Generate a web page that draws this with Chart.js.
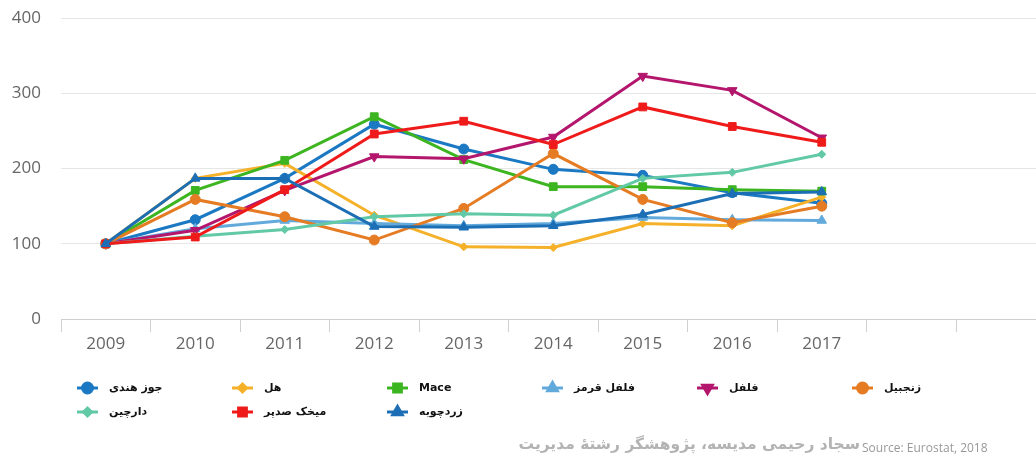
<!DOCTYPE html>
<html>
<head>
<meta charset="utf-8">
<script src="https://cdn.jsdelivr.net/npm/chart.js@4.4.0/dist/chart.umd.min.js"></script>
<style>
  html, body { margin: 0; padding: 0; background: #fff; overflow: hidden; }
  #wrap { position: relative; width: 1052px; height: 459px; overflow: hidden; }
  #spices { position: absolute; left: 0; top: -12px; }
  #credit { position: absolute; right: 192px; top: 435px; font: bold 15.5px "DejaVu Sans", sans-serif; color: #b3b3b3; white-space: nowrap; direction: rtl; }
  #source { position: absolute; left: 862px; top: 439px; font: 12px "Open Sans", sans-serif; color: #999; white-space: nowrap; }
</style>
</head>
<body>
<div id="wrap">
  <canvas id="spices" width="1052" height="471"></canvas>
  <div id="credit">سجاد رحیمی مدیسه، پژوهشگر رشتهٔ مدیریت</div>
  <div id="source">Source: Eurostat, 2018</div>
</div>
<script>
// years on the x axis, two empty slots at the end like the original
var years = ['2009', '2010', '2011', '2012', '2013', '2014', '2015', '2016', '2017', '', ''];

var nutmeg   = [100, 132, 187, 259, 226, 199, 191, 168, 154];
var cardamom = [100, 187, 207, 138, 96, 95, 127, 124, 162];
var mace     = [100, 171, 211, 269, 212, 176, 176, 172, 170];
var redPepper = [100, 120, 131, 127, 124, 127, 135, 132, 131];
var pepper   = [100, 118, 171, 216, 213, 242, 323, 304, 241];
var ginger   = [100, 159, 136, 105, 147, 220, 159, 128, 150];
var cinnamon = [100, 110, 119, 136, 140, 138, 187, 195, 219];
var cloves   = [100, 109, 172, 246, 263, 232, 282, 256, 235];
var turmeric = [100, 187, 187, 123, 122, 124, 139, 167, 169];

function series(label, data, color, style, radius, rotation) {
  return {
    label: label,
    data: data,
    borderColor: color,
    backgroundColor: color,
    pointBackgroundColor: color,
    pointBorderColor: color,
    pointStyle: style,
    pointRadius: radius,
    pointRotation: rotation || 0,
    pointBorderWidth: 1,
    borderWidth: 3,
    tension: 0
  };
}

var datasets = [
  series('جوز هندی', nutmeg, '#1b78c2', 'circle', 5),
  series('هل', cardamom, '#f4b129', 'rectRot', 4),
  series('Mace', mace, '#3cb521', 'rect', 5.5),
  series('فلفل قرمز', redPepper, '#62aadc', 'triangle', 5.5),
  series('فلفل', pepper, '#b3166c', 'triangle', 5.5, 180),
  series('زنجبیل', ginger, '#e57c24', 'circle', 5),
  series('دارچین', cinnamon, '#62c9a6', 'rectRot', 4),
  series('میخک صدپر', cloves, '#ef1b1b', 'rect', 5.5),
  series('زردچوبه', turmeric, '#1c6eb5', 'triangle', 5.5)
];
// later series sit on top, like the original
datasets.forEach(function(ds, i) { ds.order = datasets.length - i; });

// legend drawn by hand: line + marker, label to the right, 6 per row
// (canvas sits 12px higher than the page, so y is shifted by 12)
var legendBox = {
  id: 'legendBox',
  afterDraw: function(chart) {
    var ctx = chart.ctx;
    ctx.save();
    datasets.forEach(function(ds, i) {
      var col = i % 6, row = Math.floor(i / 6);
      var x = 77 + col * 155, y = 12 + 388 + row * 24;
      ctx.strokeStyle = ds.borderColor;
      ctx.lineWidth = 3;
      ctx.beginPath();
      ctx.moveTo(x, y);
      ctx.lineTo(x + 21, y);
      ctx.stroke();
      ctx.fillStyle = ds.borderColor;
      Chart.helpers.drawPoint(ctx, {
        pointStyle: ds.pointStyle,
        radius: ds.pointRadius,
        rotation: ds.pointRotation,
        borderWidth: 1
      }, x + 10.5, y);
      ctx.fillStyle = '#111';
      ctx.font = 'bold 11px "DejaVu Sans", sans-serif';
      ctx.textAlign = 'left';
      ctx.textBaseline = 'middle';
      ctx.fillText(ds.label, x + 32, y);
    });
    ctx.restore();
  }
};

var config = {
  type: 'line',
  data: { labels: years, datasets: datasets },
  options: {
    responsive: false,
    animation: false,
    layout: { padding: { top: 5, right: 1, left: 0, bottom: 0 } },
    plugins: { legend: { display: false }, tooltip: { enabled: false } },
    scales: {
      x: {
        offset: true,
        grid: { drawOnChartArea: false, offset: true, tickLength: 13, color: '#d0d0d0' },
        border: { color: '#cfcfcf' },
        ticks: { color: '#666', padding: 2, font: { family: 'Open Sans', size: 17 }, maxRotation: 0, autoSkip: false },
        afterFit: function(s) { s.height = 140; }
      },
      y: {
        min: 0, max: 400,
        grid: { color: '#e6e6e6', drawTicks: false },
        border: { display: false },
        ticks: { stepSize: 100, color: '#666', padding: 20, font: { family: 'Open Sans', size: 17 } },
        afterFit: function(s) { s.width = 61; }
      }
    }
  },
  plugins: [legendBox]
};

var ctx = document.getElementById('spices').getContext('2d');
window.spiceChart = new Chart(ctx, config);
</script>
</body>
</html>
